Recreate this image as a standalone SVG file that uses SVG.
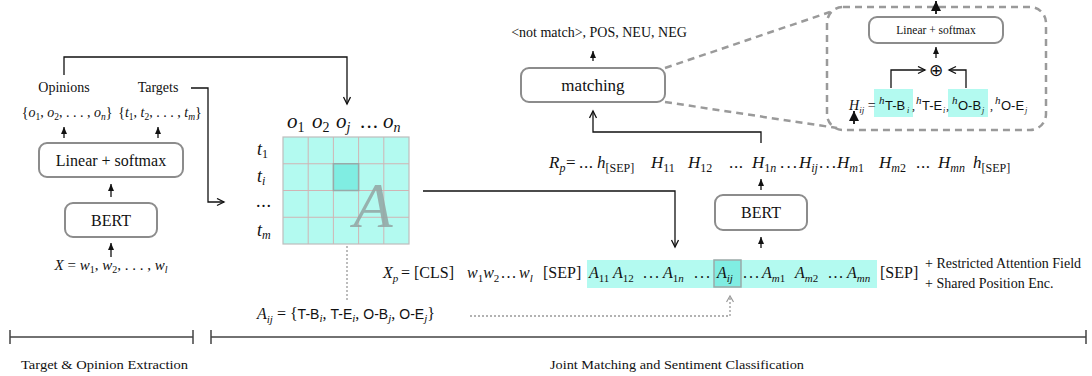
<svg xmlns="http://www.w3.org/2000/svg" width="1092" height="376" viewBox="0 0 1092 376">
<defs>
<marker id="av" markerUnits="userSpaceOnUse" markerWidth="10" markerHeight="10" refX="8" refY="4" orient="auto"><path d="M1,0.5 L8,4 L1,7.5" fill="none" stroke="#111" stroke-width="1.3"/></marker>
<marker id="af" markerUnits="userSpaceOnUse" markerWidth="8" markerHeight="8" refX="7" refY="3" orient="auto"><path d="M0,0 L7,3 L0,6 Z" fill="#111"/></marker>
<marker id="ab" markerUnits="userSpaceOnUse" markerWidth="12" markerHeight="12" refX="10" refY="5" orient="auto"><path d="M0,0 L10,5 L0,10 Z" fill="#111"/></marker>
<marker id="ad" markerUnits="userSpaceOnUse" markerWidth="10" markerHeight="10" refX="7" refY="4" orient="auto"><path d="M1,0.5 L7,4 L1,7.5" fill="none" stroke="#999" stroke-width="1.2"/></marker>
</defs>
<style>
.r{font-family:"Liberation Serif",serif;fill:#111}
.i{font-style:italic}
.u{font-style:normal}
.s{font-family:"Liberation Sans",sans-serif}
.box{fill:#fff;stroke:#8c8c8c;stroke-width:2}
.ln{fill:none;stroke:#111;stroke-width:1.3}
.sa{fill:none;stroke:#111;stroke-width:1.3;marker-end:url(#af)}
.dash{fill:none;stroke:#9a9a9a;stroke-width:2.5;stroke-dasharray:7 5}
.dot{fill:none;stroke:#999;stroke-width:1.3;stroke-dasharray:2 2}
.cy{fill:#b3faf0}
.hl{fill:#80ede2;stroke:#9aa9a8;stroke-width:1.5}
.grid{stroke:#d0b4b4;stroke-width:1}
.br{fill:none;stroke:#444;stroke-width:1.5}
</style>

<!-- connectors -->
<g id="connectors">
  <path class="ln" d="M191,88 H208 V202 H224" marker-end="url(#av)"/>
  <path class="ln" d="M64,75 V57 H347 V104" marker-end="url(#av)"/>
  <path class="ln" d="M423,191 H675 V247" marker-end="url(#av)"/>
  <path class="ln" d="M761,143 V132 H593 V111" marker-end="url(#av)"/>
  <line class="sa" x1="64" y1="138" x2="64" y2="127"/>
  <line class="sa" x1="158" y1="138" x2="158" y2="127"/>
  <line class="sa" x1="111" y1="197" x2="111" y2="184"/>
  <line class="sa" x1="111" y1="257" x2="111" y2="243"/>
  <line class="sa" x1="761" y1="248" x2="761" y2="237"/>
  <line class="sa" x1="761" y1="190" x2="761" y2="179"/>
  <line class="sa" x1="593" y1="61" x2="593" y2="51"/>
  <path class="dot" d="M347,300 V180" marker-end="url(#ad)"/>
  <path class="dot" d="M470,316 H730 V296" marker-end="url(#ad)"/>
  <path class="dash" d="M665,68 L830,12"/>
  <path class="dash" d="M665,102 L837,128"/>
</g>

<!-- left extraction -->
<g id="labels-top-left">
  <text class="r" x="64" y="92" font-size="14" text-anchor="middle">Opinions</text>
  <text class="r" x="158" y="92" font-size="14" text-anchor="middle">Targets</text>
</g>
<g id="sets">
  <text class="r" x="67" y="117" font-size="14" text-anchor="middle">{<tspan class="i">o</tspan><tspan font-size="9.5" dy="3">1</tspan><tspan dy="-3">, </tspan><tspan class="i">o</tspan><tspan font-size="9.5" dy="3">2</tspan><tspan dy="-3">, . . . , </tspan><tspan class="i">o</tspan><tspan class="i" font-size="9.5" dy="3">n</tspan><tspan dy="-3">}</tspan></text>
  <text class="r" x="160" y="117" font-size="14" text-anchor="middle">{<tspan class="i">t</tspan><tspan font-size="9.5" dy="3">1</tspan><tspan dy="-3">, </tspan><tspan class="i">t</tspan><tspan font-size="9.5" dy="3">2</tspan><tspan dy="-3">, . . . , </tspan><tspan class="i">t</tspan><tspan class="i" font-size="9.5" dy="3">m</tspan><tspan dy="-3">}</tspan></text>
</g>
<g id="linear-left">
  <rect class="box" x="39" y="143" width="144" height="34" rx="8"/>
  <text class="r" x="111" y="166" font-size="16" text-anchor="middle">Linear + softmax</text>
</g>
<g id="bert-left">
  <rect class="box" x="65" y="203" width="92" height="34" rx="8"/>
  <text class="r" x="111" y="226" font-size="16" text-anchor="middle">BERT</text>
</g>
<g id="input-left">
  <text class="r" x="111" y="270" font-size="15" text-anchor="middle"><tspan class="i">X</tspan> = <tspan class="i">w</tspan><tspan font-size="10" dy="3">1</tspan><tspan dy="-3">, </tspan><tspan class="i">w</tspan><tspan font-size="10" dy="3">2</tspan><tspan dy="-3">, . . . , </tspan><tspan class="i">w</tspan><tspan class="i" font-size="10" dy="3">l</tspan></text>
</g>

<!-- grid -->
<g id="grid">
  <rect class="cy" x="283" y="137" width="126" height="107" stroke="#bdbdbd" stroke-width="1.2"/>
  <g class="grid">
    <line x1="308.2" y1="137" x2="308.2" y2="244"/>
    <line x1="333.4" y1="137" x2="333.4" y2="244"/>
    <line x1="358.6" y1="137" x2="358.6" y2="244"/>
    <line x1="383.8" y1="137" x2="383.8" y2="244"/>
    <line x1="283" y1="163.75" x2="409" y2="163.75"/>
    <line x1="283" y1="190.5" x2="409" y2="190.5"/>
    <line x1="283" y1="217.25" x2="409" y2="217.25"/>
  </g>
  <rect class="hl" x="333.4" y="163.75" width="25.2" height="26.75"/>
  <text class="r i" x="373" y="227" font-size="64" text-anchor="middle" style="fill:#93a5a3" opacity="0.85">A</text>
  <text class="r i" x="287" y="128" font-size="21">o<tspan class="u" font-size="14" dy="4">1</tspan></text>
  <text class="r i" x="312" y="128" font-size="21">o<tspan class="u" font-size="14" dy="4">2</tspan></text>
  <text class="r i" x="336" y="128" font-size="21">o<tspan font-size="14" dy="4">j</tspan></text>
  <text class="r" x="360" y="128" font-size="21" textLength="18">. . .</text>
  <text class="r i" x="383" y="128" font-size="21">o<tspan font-size="14" dy="4">n</tspan></text>
  <text class="r i" x="257" y="155" font-size="18">t<tspan class="u" font-size="12" dy="3">1</tspan></text>
  <text class="r i" x="257" y="182" font-size="18">t<tspan font-size="12" dy="3">i</tspan></text>
  <text class="r" x="256" y="207" font-size="18" textLength="15">. . .</text>
  <text class="r i" x="257" y="236" font-size="18">t<tspan font-size="12" dy="3">m</tspan></text>
</g>

<!-- A_ij label -->
<g id="aij-label">
  <text class="r" y="319" font-size="16"><tspan x="257" class="i">A</tspan><tspan class="i" font-size="11" dy="4">ij</tspan><tspan dy="-4"> = {</tspan><tspan class="s" font-size="14">T-B</tspan><tspan class="i" font-size="11" dy="3">i</tspan><tspan dy="-3">, </tspan><tspan class="s" font-size="14">T-E</tspan><tspan class="i" font-size="11" dy="3">i</tspan><tspan dy="-3">, </tspan><tspan class="s" font-size="14">O-B</tspan><tspan class="i" font-size="11" dy="3">j</tspan><tspan dy="-3">, </tspan><tspan class="s" font-size="14">O-E</tspan><tspan class="i" font-size="11" dy="3">j</tspan><tspan dy="-3">}</tspan></text>
</g>

<!-- X_p row -->
<g id="xp-row">
  <rect class="cy" x="587" y="260" width="290" height="28"/>
  <rect class="hl" x="714" y="260" width="27" height="27"/>
  <text class="r i" x="383" y="278" font-size="16">X<tspan font-size="11" dy="4">p</tspan></text>
  <text class="r" x="401" y="278" font-size="16">= [CLS]</text>
  <text class="r i" x="467" y="278" font-size="16">w<tspan class="u" font-size="11" dy="4">1</tspan><tspan dy="-4">w</tspan><tspan class="u" font-size="11" dy="4">2</tspan></text>
  <text class="r" x="501" y="278" font-size="16" textLength="15">. . .</text>
  <text class="r i" x="519" y="278" font-size="16">w<tspan font-size="11" dy="4">l</tspan></text>
  <text class="r" x="543" y="278" font-size="16">[SEP]</text>
  <text class="r i" x="589" y="278" font-size="16">A<tspan class="u" font-size="11" dy="4">11</tspan></text>
  <text class="r i" x="613" y="278" font-size="16">A<tspan class="u" font-size="11" dy="4">12</tspan></text>
  <text class="r" x="643" y="278" font-size="16" textLength="16">. . .</text>
  <text class="r i" x="663" y="278" font-size="16">A<tspan class="u" font-size="11" dy="4">1</tspan><tspan font-size="11">n</tspan></text>
  <text class="r" x="694" y="278" font-size="16" textLength="16">. . .</text>
  <text class="r i" x="717" y="278" font-size="16">A<tspan font-size="11" dy="4">ij</tspan></text>
  <text class="r" x="743" y="278" font-size="16" textLength="16">. . .</text>
  <text class="r i" x="762" y="278" font-size="16">A<tspan font-size="11" dy="4">m</tspan><tspan class="u" font-size="11">1</tspan></text>
  <text class="r i" x="795" y="278" font-size="16">A<tspan font-size="11" dy="4">m</tspan><tspan class="u" font-size="11">2</tspan></text>
  <text class="r" x="828" y="278" font-size="16" textLength="15">. . .</text>
  <text class="r i" x="847" y="278" font-size="16">A<tspan font-size="11" dy="4">mn</tspan></text>
  <text class="r" x="880" y="278" font-size="16">[SEP]</text>
  <text class="r" x="925" y="268" font-size="14">+ Restricted Attention Field</text>
  <text class="r" x="925" y="288" font-size="14">+ Shared Position Enc.</text>
</g>

<!-- right BERT -->
<g id="bert-right">
  <rect class="box" x="715" y="195" width="92" height="35" rx="8"/>
  <text class="r" x="761" y="218" font-size="16" text-anchor="middle">BERT</text>
</g>

<!-- R_p row -->
<g id="rp-row">
  <text class="r i" x="549" y="168" font-size="17">R<tspan font-size="12" dy="4">p</tspan></text>
  <text class="r" x="566" y="168" font-size="17">=</text>
  <text class="r" x="579" y="168" font-size="17" textLength="14">. . .</text>
  <text class="r i" x="597" y="168" font-size="17">h<tspan class="u" font-size="12" dy="4">[SEP]</tspan></text>
  <text class="r i" x="651" y="168" font-size="17">H<tspan class="u" font-size="12" dy="4">11</tspan></text>
  <text class="r i" x="688" y="168" font-size="17">H<tspan class="u" font-size="12" dy="4">12</tspan></text>
  <text class="r" x="729" y="168" font-size="17" textLength="14">. . .</text>
  <text class="r i" x="752" y="168" font-size="17">H<tspan class="u" font-size="12" dy="4">1</tspan><tspan font-size="12">n</tspan></text>
  <text class="r" x="780" y="168" font-size="17" textLength="17">. . .</text>
  <text class="r i" x="799" y="168" font-size="17">H<tspan font-size="12" dy="4">ij</tspan></text>
  <text class="r" x="819" y="168" font-size="17" textLength="17">. . .</text>
  <text class="r i" x="837" y="168" font-size="17">H<tspan font-size="12" dy="4">m</tspan><tspan class="u" font-size="12">1</tspan></text>
  <text class="r i" x="879" y="168" font-size="17">H<tspan font-size="12" dy="4">m</tspan><tspan class="u" font-size="12">2</tspan></text>
  <text class="r" x="916" y="168" font-size="17" textLength="14">. . .</text>
  <text class="r i" x="938" y="168" font-size="17">H<tspan font-size="12" dy="4">mn</tspan></text>
  <text class="r i" x="973" y="168" font-size="17">h<tspan class="u" font-size="12" dy="4">[SEP]</tspan></text>
</g>

<!-- matching -->
<g id="matching">
  <rect class="box" x="521" y="68" width="144" height="34" rx="8"/>
  <text class="r" x="593" y="91" font-size="17" text-anchor="middle">matching</text>
</g>
<g id="output-labels">
  <text class="r" x="599" y="37" font-size="14" text-anchor="middle">&lt;not match&gt;, POS, NEU, NEG</text>
</g>

<!-- zoomed detail box -->
<g id="detail">
  <rect class="dash" x="827" y="7" width="219" height="123" rx="16"/>
  <line x1="936" y1="14" x2="936" y2="1" stroke="#111" stroke-width="1.8" marker-end="url(#ab)"/>
  <rect class="box" x="869" y="17" width="134" height="26" rx="8"/>
  <text class="r" x="936" y="34" font-size="11.5" text-anchor="middle">Linear + softmax</text>
  <line class="sa" x1="936" y1="58" x2="936" y2="47"/>
  <text x="936" y="76" font-size="17" text-anchor="middle" font-family="DejaVu Sans, sans-serif" fill="#111">⊕</text>
  <path class="ln" d="M891,88 V70 H925" marker-end="url(#av)"/>
  <path class="ln" d="M966,88 V70 H949" marker-end="url(#av)"/>
  <rect class="cy" x="874" y="89" width="39" height="28"/>
  <rect class="cy" x="948" y="89" width="40" height="28"/>
  <text class="r i" x="849" y="110" font-size="14">H<tspan font-size="9" dy="3">ij</tspan><tspan class="u" dy="-3"> =</tspan></text>
  <text class="r i" x="879" y="104" font-size="11">h</text>
  <text class="s" x="885" y="110" font-size="13" fill="#111">T-B</text>
  <text class="r i" x="907" y="113" font-size="8">i</text>
  <text class="r" x="912" y="110" font-size="12">,</text>
  <text class="r i" x="916" y="104" font-size="11">h</text>
  <text class="s" x="922" y="110" font-size="13" fill="#111">T-E</text>
  <text class="r i" x="943" y="113" font-size="8">i</text>
  <text class="r" x="946" y="110" font-size="12">,</text>
  <text class="r i" x="952" y="104" font-size="11">h</text>
  <text class="s" x="958" y="110" font-size="13" fill="#111">O-B</text>
  <text class="r i" x="982" y="113" font-size="8">j</text>
  <text class="r" x="990" y="110" font-size="12">,</text>
  <text class="r i" x="995" y="104" font-size="11">h</text>
  <text class="s" x="1001" y="110" font-size="13" fill="#111">O-E</text>
  <text class="r i" x="1025" y="113" font-size="8">j</text>
  <line x1="854" y1="124" x2="854" y2="111" stroke="#111" stroke-width="1.8" marker-end="url(#ab)"/>
</g>

<!-- stage brackets -->
<g id="stage-extraction">
  <path class="br" d="M10,330 V344 M10,337 H193 M193,330 V344"/>
  <text class="r" x="21" y="369" font-size="13" textLength="167" lengthAdjust="spacingAndGlyphs">Target &amp; Opinion Extraction</text>
</g>
<g id="stage-joint">
  <path class="br" d="M211,330 V344 M211,337 H1086 M1086,330 V344"/>
  <text class="r" x="550" y="369" font-size="13" textLength="254" lengthAdjust="spacingAndGlyphs">Joint Matching and Sentiment Classification</text>
</g>
</svg>
